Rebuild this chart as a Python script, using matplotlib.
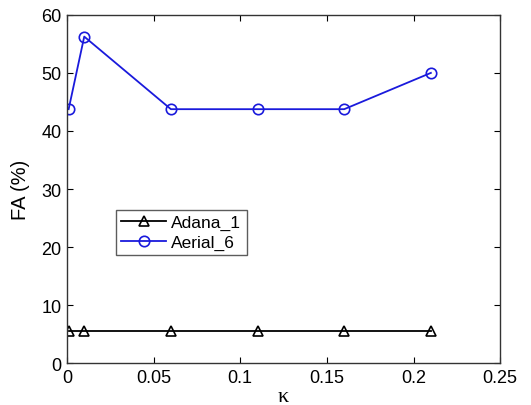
import matplotlib
matplotlib.use("Agg")
import matplotlib.pyplot as plt

# Data
kappa = [0.001, 0.01, 0.06, 0.11, 0.16, 0.21]
adana_1 = [5.56, 5.56, 5.56, 5.56, 5.56, 5.56]
aerial_6 = [43.75, 56.25, 43.75, 43.75, 43.75, 50.0]

x_ticks = [0, 0.05, 0.1, 0.15, 0.2, 0.25]
x_labels = ["0", "0.05", "0.1", "0.15", "0.2", "0.25"]
y_ticks = [0, 10, 20, 30, 40, 50, 60]

plt.rcParams["font.family"] = ["Liberation Sans", "DejaVu Sans"]

fig = plt.figure(figsize=(5.31, 4.06), dpi=100)
ax = fig.add_axes([0.126, 0.103, 0.816, 0.858])

ax.plot(kappa, adana_1, color="black", marker="^", markersize=7.5,
        markerfacecolor="none", markeredgewidth=1.2, linewidth=1.3, label="Adana_1")
ax.plot(kappa, aerial_6, color="#1a1adc", marker="o", markersize=7.5,
        markerfacecolor="none", markeredgewidth=1.2, linewidth=1.3, label="Aerial_6")

ax.set_xlim(0, 0.25)
ax.set_ylim(0, 60)
ax.set_xticks(x_ticks)
ax.set_xticklabels(x_labels)
ax.set_yticks(y_ticks)
ax.tick_params(direction="in", top=True, right=True, labelsize=13, length=4, pad=4)
for s in ax.spines.values():
    s.set_linewidth(1.0)
    s.set_color("#333333")

ax.set_ylabel("FA (%)", fontsize=14.5, labelpad=8)
ax.set_xlabel("κ", fontsize=16, family=["Liberation Serif", "DejaVu Serif"], labelpad=1)

leg = ax.legend(loc="lower left", bbox_to_anchor=(0.113, 0.31), fontsize=12.5,
                frameon=True, fancybox=False, edgecolor="#333333",
                handlelength=2.6, borderpad=0.3, labelspacing=0.25,
                handletextpad=0.3, borderaxespad=0)
leg.get_frame().set_linewidth(1.0)

fig.savefig("out.png", dpi=100)
